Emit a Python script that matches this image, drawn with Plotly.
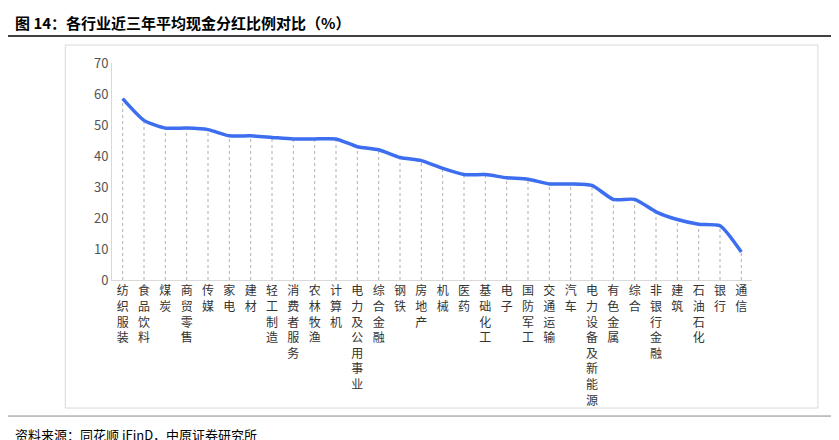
import plotly.graph_objects as go

industries = ["纺织服装", "食品饮料", "煤炭", "商贸零售", "传媒", "家电", "建材", "轻工制造",
              "消费者服务", "农林牧渔", "计算机", "电力及公用事业", "综合金融", "钢铁", "房地产",
              "机械", "医药", "基础化工", "电子", "国防军工", "交通运输", "汽车", "电力设备及新能源",
              "有色金属", "综合", "非银行金融", "建筑", "石油石化", "银行", "通信"]
payout = [58.5, 51.5, 49, 49, 48.5, 46.5, 46.5, 46, 45.5, 45.5, 45.5, 43, 42, 39.5, 38.5,
          36, 34, 34, 33, 32.5, 31, 31, 30.5, 26, 26, 22, 19.5, 18, 17.5, 9]

# vertical tick text
labels = ["<br>".join(name) for name in industries]

# drop lines from each point to the axis
dx, dy = [], []
for i, v in enumerate(payout):
    dx += [i, i, None]
    dy += [0, v, None]

fig = go.Figure()
fig.add_trace(go.Scatter(x=dx, y=dy, mode="lines",
                         line=dict(color="#b0b0b0", width=1, dash="dot"), hoverinfo="skip"))
fig.add_trace(go.Scatter(x=list(range(len(payout))), y=payout, mode="lines",
                         line=dict(color="#3d6ef0", width=3.5, shape="spline", smoothing=0.6)))

font = "Noto Sans CJK SC"
fig.update_layout(
    width=839, height=440, showlegend=False,
    paper_bgcolor="white", plot_bgcolor="white",
    margin=dict(l=104, r=95, t=55, b=168),
    font=dict(family=font, size=13, color="#333"),
    xaxis=dict(tickmode="array", tickvals=list(range(len(payout))), ticktext=labels,
               range=[-0.5, len(payout) - 0.5], showgrid=False, ticks="", automargin=False,
               showline=True, linecolor="#d9d9d9", tickangle=0, tickfont=dict(size=12)),
    yaxis=dict(range=[0, 70], dtick=10, showgrid=False, zeroline=False, automargin=False,
               showline=True, linecolor="#d9d9d9", tickfont=dict(size=13, color="#555")),
)
fig.add_shape(type="rect", xref="paper", yref="paper", x0=-0.073, x1=1.103, y0=-0.59, y1=1.083,
              line=dict(color="#d9d9d9", width=1))
fig.add_shape(type="line", xref="paper", yref="paper", x0=-0.1625, x1=1.148, y0=1.124, y1=1.124,
              line=dict(color="black", width=1.5))
fig.add_shape(type="line", xref="paper", yref="paper", x0=-0.1625, x1=1.148, y0=-0.627, y1=-0.627,
              line=dict(color="#888", width=1))
fig.add_annotation(text="<b>图 14：各行业近三年平均现金分红比例对比（%）</b>", xref="paper", yref="paper",
                   x=-0.155, y=1.13, xanchor="left", yanchor="bottom", showarrow=False,
                   font=dict(family=font, size=15, color="black"))
fig.add_annotation(text="资料来源：同花顺 iFinD，中原证券研究所", xref="paper", yref="paper",
                   x=-0.155, y=-0.66, xanchor="left", yanchor="top", showarrow=False,
                   font=dict(family=font, size=13, color="black"))
fig.write_html("out.html")
